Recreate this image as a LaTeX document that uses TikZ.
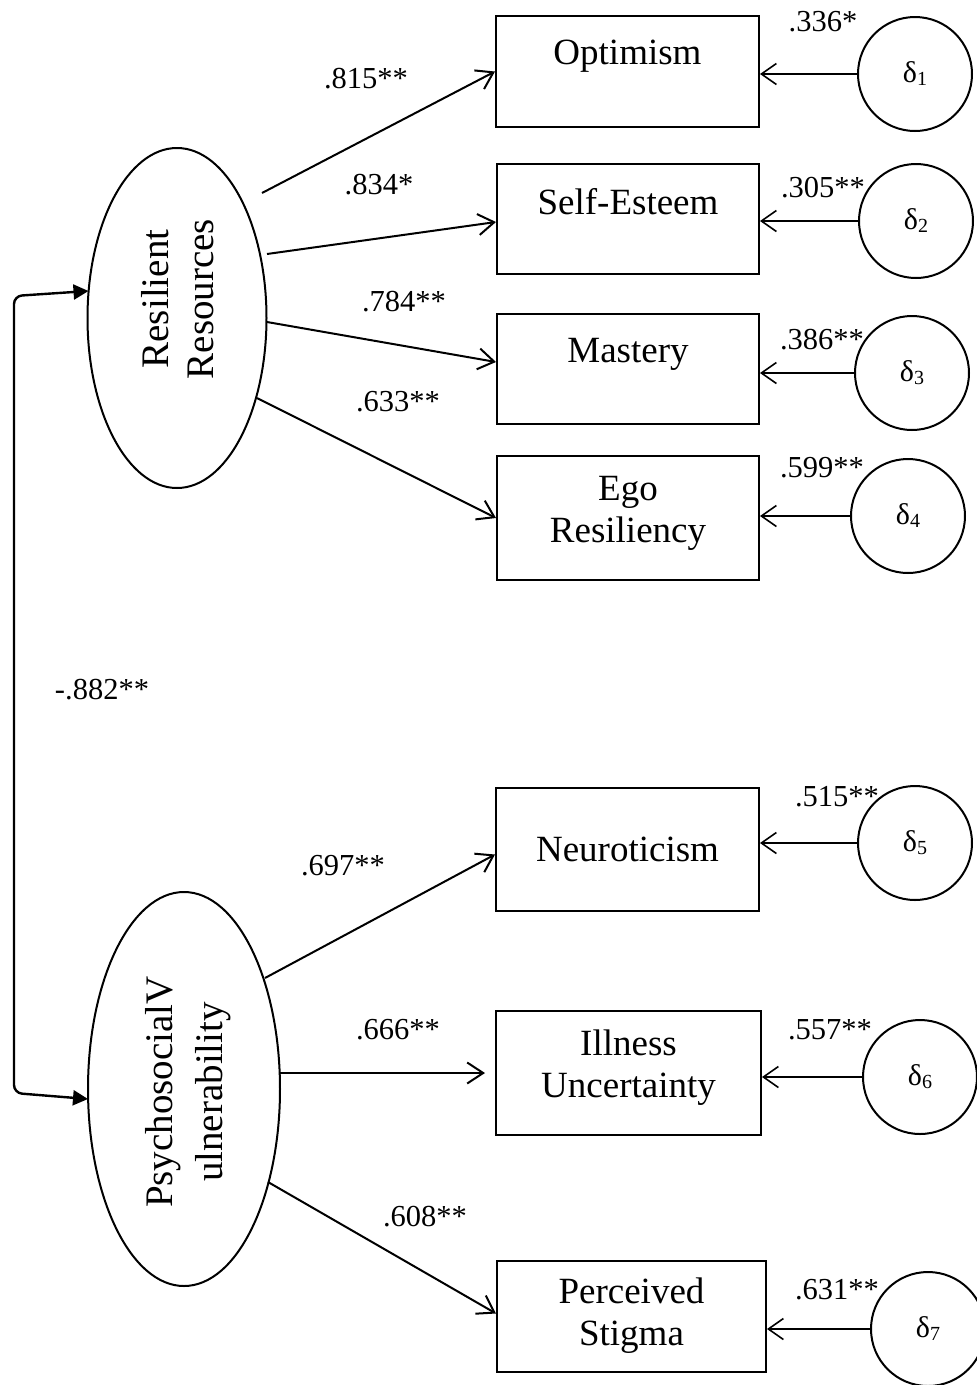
\documentclass[tikz,border=0pt]{standalone}
\usepackage{fontspec}
\setmainfont{Liberation Serif}
\usetikzlibrary{arrows.meta,shapes.geometric}
% lift box text without changing its reported size
\newcommand\liftby[2]{\raisebox{#1}[\height][\depth]{#2}}
\newcommand\twolines[2]{\begin{tabular}{@{}c@{}}#1\\#2\end{tabular}}
\newcommand\dsub[1]{δ\raisebox{-3pt}{\fontsize{20}{20}\selectfont #1}}
\begin{document}
\begin{tikzpicture}[x=1pt,y=-1pt,
  box/.style={draw, line width=2pt, inner sep=0pt, font=\fontsize{37}{42}\selectfont},
  latent/.style={draw, ellipse, line width=2pt, inner sep=0pt},
  latentlabel/.style={rotate=90, align=center, inner sep=0pt},
  err/.style={draw, circle, line width=2pt, inner sep=0pt, minimum size=114pt, font=\fontsize{30}{30}\selectfont},
  coef/.style={inner sep=0pt, font=\fontsize{30.5}{31}\selectfont},
  load/.style={line width=2pt, -{Straight Barb[length=16pt,width=21pt,line width=2pt]}},
  errarrow/.style={line width=1.6pt, -{Straight Barb[length=15pt,width=21pt,line width=1.6pt]}},
  corr/.style={line width=2.4pt, rounded corners=8pt,
    {Triangle[length=15pt,width=15pt]}-{Triangle[length=15pt,width=15pt]}}
]
\useasboundingbox (0,0) rectangle (977,1385);

% latent factors
\node[latent, minimum width=179pt, minimum height=340pt] (rr) at (177,318) {};
\node[latentlabel, font=\fontsize{39}{45}\selectfont] (rrlabel) at (178,299) {Resilient\\Resources};
\node[latent, minimum width=192pt, minimum height=394pt] (pv) at (184,1089) {};
\node[latentlabel, font=\fontsize{39}{50}\selectfont] (pvlabel) at (188,1092) {PsychosocialV\\ulnerability};

% indicators
\node[box, minimum width=263pt, minimum height=111pt] (opt) at (627.5,71.5) {\liftby{15pt}{Optimism}};
\node[box, minimum width=262pt, minimum height=110pt] (se) at (628,219) {\liftby{17pt}{Self-Esteem}};
\node[box, minimum width=262pt, minimum height=110pt] (mas) at (628,369) {\liftby{15pt}{Mastery}};
\node[box, minimum width=262pt, minimum height=124pt] (ego) at (628,518) {\liftby{5pt}{\twolines{Ego}{Resiliency}}};
\node[box, minimum width=263pt, minimum height=123pt] (neu) at (627.5,849.5) {Neuroticism};
\node[box, minimum width=265pt, minimum height=124pt] (ill) at (628.5,1073) {\liftby{5pt}{\twolines{Illness}{Uncertainty}}};
\node[box, minimum width=269pt, minimum height=111pt] (ps) at (631.5,1316.5) {\twolines{Perceived}{Stigma}};

% error terms
\node[err] (d1) at (915,74) {\dsub{1}};
\node[err] (d2) at (916,221) {\dsub{2}};
\node[err] (d3) at (912,373) {\dsub{3}};
\node[err] (d4) at (908,516) {\dsub{4}};
\node[err] (d5) at (915,843) {\dsub{5}};
\node[err] (d6) at (920,1077) {\dsub{6}};
\node[err] (d7) at (928,1329) {\dsub{7}};

% factor loadings
\draw[load] ([shift={(85,-125)}]rr.center) -- (opt.west);
\draw[load] ([shift={(90,-64)}]rr.center) -- ([yshift=-3pt]se.west);
\draw[load] ([shift={(90,4)}]rr.center) -- ([yshift=7pt]mas.west);
\draw[load] ([shift={(80,80)}]rr.center) -- (ego.west);
\draw[load] ([shift={(81,-111)}]pv.center) -- ([yshift=-5pt]neu.west);
\draw[load] ([shift={(96,-16)}]pv.center) -- ([xshift=-10pt]ill.west);
\draw[load] ([shift={(84,93)}]pv.center) -- ([yshift=3pt]ps.west);

% error paths
\draw[errarrow] (d1) -- (d1 -| opt.east);
\draw[errarrow] (d2) -- (d2 -| se.east);
\draw[errarrow] (d3) -- (d3 -| mas.east);
\draw[errarrow] (d4) -- (d4 -| ego.east);
\draw[errarrow] (d5) -- (d5 -| neu.east);
\draw[errarrow] (d6) -- (d6 -| ill.east);
\draw[errarrow] (d7) -- (d7 -| ps.east);

% factor correlation
\coordinate (ctop) at (14,296);
\coordinate (cbot) at (14,1093);
\draw[corr] ([shift={(-88.5,-27)}]rr.center) -- (ctop) -- (cbot) -- ([shift={(-96,10)}]pv.center);

% coefficients
\node[coef] (c1) at (366,79) {.815**};
\node[coef] (c2) at (379,185) {.834*};
\node[coef] (c3) at (404,302) {.784**};
\node[coef] (c4) at (398,402) {.633**};
\node[coef] (c5) at (343,866) {.697**};
\node[coef] (c6) at (398,1030) {.666**};
\node[coef] (c7) at (425,1217) {.608**};
\node[coef] (e1) at (823,22) {.336*};
\node[coef] (e2) at (823,188) {.305**};
\node[coef] (e3) at (822,340) {.386**};
\node[coef] (e4) at (822,468) {.599**};
\node[coef] (e5) at (837,797) {.515**};
\node[coef] (e6) at (830,1030) {.557**};
\node[coef] (e7) at (837,1290) {.631**};
\node[coef] (r12) at (102,690) {-.882**};
\end{tikzpicture}
\end{document}
